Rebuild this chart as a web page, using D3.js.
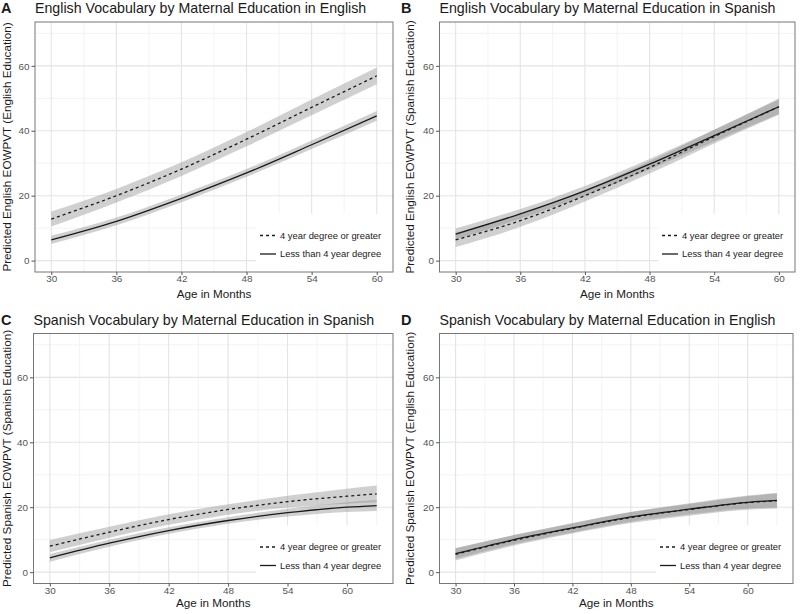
<!DOCTYPE html>
<html><head><meta charset="utf-8">
<script src="https://cdn.jsdelivr.net/npm/d3@7"></script>
<style>
html,body{margin:0;padding:0;background:#fff;}
svg{display:block;font-family:"Liberation Sans",Arial,sans-serif;}
</style></head>
<body>
<svg id="c" width="800" height="614"></svg>
<script>
// ---- data ----
const ageAB = [30, 36, 42, 48, 54, 60];
const ageCD = [30, 36, 42, 48, 54, 60, 63];
const xTicksAB = [30, 36, 42, 48, 54, 60];
const xTicksCD = [30, 36, 42, 48, 54, 60];
const yTicks = [0, 20, 40, 60];
const seriesNames = ["4 year degree or greater", "Less than 4 year degree"];

// Panel A
const degA   = [12.8, 20.0, 28.2, 37.4, 47.2, 56.9];
const degA_se= [2.3, 2.1, 2.1, 2.2, 2.4, 2.6];
const lessA  = [6.4, 12.1, 19.2, 27.0, 35.7, 44.6];
const lessA_se=[1.3, 1.2, 1.2, 1.2, 1.3, 1.5];
// Panel B
const degB   = [6.4, 12.3, 20.0, 28.7, 38.2, 47.4];
const degB_se= [2.2, 1.9, 1.8, 1.9, 2.1, 2.5];
const lessB  = [8.2, 14.4, 21.5, 29.7, 38.5, 47.4];
const lessB_se=[1.7, 1.5, 1.5, 1.6, 1.8, 2.2];
// Panel C
const degC   = [8.0, 12.3, 16.2, 19.3, 21.7, 23.4, 24.1];
const degC_se= [1.9, 1.7, 1.6, 1.6, 1.8, 2.3, 2.6];
const lessC  = [4.4, 8.9, 12.8, 15.9, 18.3, 20.0, 20.5];
const lessC_se=[1.2, 1.1, 1.0, 1.0, 1.2, 1.5, 1.7];
// Panel D
const degD   = [5.5, 9.8, 13.5, 16.8, 19.3, 21.4, 22.0];
const degD_se= [1.9, 1.6, 1.6, 1.7, 1.9, 2.2, 2.4];
const lessD  = [5.7, 10.0, 13.6, 17.0, 19.4, 21.5, 22.1];
const lessD_se=[1.6, 1.4, 1.4, 1.5, 1.6, 1.9, 2.1];

const titles = [
  "English Vocabulary by Maternal Education in English",
  "English Vocabulary by Maternal Education in Spanish",
  "Spanish Vocabulary by Maternal Education in Spanish",
  "Spanish Vocabulary by Maternal Education in English"
];
const letters = ["A", "B", "C", "D"];
const yTitles = [
  "Predicted English EOWPVT (English Education)",
  "Predicted English EOWPVT (Spanish Education)",
  "Predicted Spanish EOWPVT (Spanish Education)",
  "Predicted Spanish EOWPVT (English Education)"
];
const xTitle = "Age in Months";

// ---- layout ----
const panels = [
  {ox:0,   l:35,    r:393, t:22,    b:272,   age:ageAB, xt:xTicksAB, xd:[30,60], deg:degA, degSe:degA_se, less:lessA, lessSe:lessA_se, yTitleX:10.5, xTitleY:298},
  {ox:400, l:439.5, r:795, t:22,    b:272,   age:ageAB, xt:xTicksAB, xd:[30,60], deg:degB, degSe:degB_se, less:lessB, lessSe:lessB_se, yTitleX:414, xTitleY:298},
  {ox:0,   l:33.5,  r:393, t:333.5, b:583.5, age:ageCD, xt:xTicksCD, xd:[30,63], deg:degC, degSe:degC_se, less:lessC, lessSe:lessC_se, yTitleX:10.5, xTitleY:607},
  {ox:400, l:439.5, r:793, t:333.5, b:583.5, age:ageCD, xt:xTicksCD, xd:[30,63], deg:degD, degSe:degD_se, less:lessD, lessSe:lessD_se, yTitleX:414, xTitleY:607}
];

const svg = d3.select("#c");
const textCol = "#1a1a1a", tickCol = "#555";

panels.forEach((p, i) => {
  const span = p.xd[1] - p.xd[0];
  const x = d3.scaleLinear().domain([p.xd[0] - 0.05*span, p.xd[1] + 0.05*span]).range([p.l, p.r]);
  const y = d3.scaleLinear().domain([-3.5, 73.5]).range([p.b, p.t]);
  const g = svg.append("g");

  // minor grid
  const xMinor = [];
  for (let v = p.xt[0] - 3; v <= x.domain()[1]; v += 6) if (v >= x.domain()[0]) xMinor.push(v);
  const yMinor = [10, 30, 50, 70];
  g.selectAll(".xm").data(xMinor).join("line")
    .attr("x1", d => x(d)).attr("x2", d => x(d)).attr("y1", p.t).attr("y2", p.b)
    .attr("stroke", "#f0f0f0").attr("stroke-width", 0.8);
  g.selectAll(".ym").data(yMinor).join("line")
    .attr("y1", d => y(d)).attr("y2", d => y(d)).attr("x1", p.l).attr("x2", p.r)
    .attr("stroke", "#f0f0f0").attr("stroke-width", 0.8);
  // major grid
  g.selectAll(".xg").data(p.xt).join("line")
    .attr("x1", d => x(d)).attr("x2", d => x(d)).attr("y1", p.t).attr("y2", p.b)
    .attr("stroke", "#e4e4e4").attr("stroke-width", 1.1);
  g.selectAll(".yg").data(yTicks).join("line")
    .attr("y1", d => y(d)).attr("y2", d => y(d)).attr("x1", p.l).attr("x2", p.r)
    .attr("stroke", "#e4e4e4").attr("stroke-width", 1.1);

  // ribbons
  const mk = (vals, se) => p.age.map((a, k) => ({a, v: vals[k], lo: vals[k] - se[k], hi: vals[k] + se[k]}));
  const dDeg = mk(p.deg, p.degSe), dLess = mk(p.less, p.lessSe);
  const area = d3.area().x(d => x(d.a)).y0(d => y(d.lo)).y1(d => y(d.hi)).curve(d3.curveMonotoneX);
  const line = d3.line().x(d => x(d.a)).y(d => y(d.v)).curve(d3.curveMonotoneX);
  [dDeg, dLess].forEach(d => {
    g.append("path").attr("d", area(d)).attr("fill", "#8a8a8a").attr("fill-opacity", 0.4);
  });
  g.append("path").attr("d", line(dLess)).attr("fill", "none").attr("stroke", "#1a1a1a").attr("stroke-width", 1.3);
  g.append("path").attr("d", line(dDeg)).attr("fill", "none").attr("stroke", "#1a1a1a").attr("stroke-width", 1.3)
    .attr("stroke-dasharray", "3,3");

  // legend
  const lx = p.r - 133, ly = p.b - 58;
  g.append("rect").attr("x", lx - 4).attr("y", ly).attr("width", p.r - lx + 4).attr("height", p.b - ly).attr("fill", "#fff");
  seriesNames.forEach((s, k) => {
    const yy = p.b - 36.5 + k * 18.5;
    g.append("line").attr("x1", lx).attr("x2", lx + 16).attr("y1", yy).attr("y2", yy)
      .attr("stroke", "#1a1a1a").attr("stroke-width", 1.3)
      .attr("stroke-dasharray", k === 0 ? "3,3" : null);
    g.append("text").attr("x", lx + 20).attr("y", yy).attr("dy", "0.35em")
      .attr("font-size", 9.4).attr("fill", textCol).text(s);
  });

  // border
  g.append("rect").attr("x", p.l).attr("y", p.t).attr("width", p.r - p.l).attr("height", p.b - p.t)
    .attr("fill", "none").attr("stroke", "#777").attr("stroke-width", 1);

  // axes
  const xa = g.append("g").attr("transform", `translate(0,${p.b})`)
    .call(d3.axisBottom(x).tickValues(p.xt).tickSize(3).tickPadding(0).tickFormat(d3.format("d")));
  const ya = g.append("g").attr("transform", `translate(${p.l},0)`)
    .call(d3.axisLeft(y).tickValues(yTicks).tickSize(3.5).tickPadding(2).tickFormat(d3.format("d")));
  [xa, ya].forEach(a => {
    a.select(".domain").remove();
    a.selectAll(".tick line").attr("stroke", "#555");
    a.selectAll(".tick text").attr("fill", tickCol).attr("font-size", 9.9)
      .attr("font-family", "Liberation Sans, Arial, sans-serif");
  });

  // titles
  g.append("text").attr("x", p.ox + 1).attr("y", p.t - 9).attr("font-size", 14.5).attr("font-weight", "bold")
    .attr("fill", textCol).text(letters[i]);
  g.append("text").attr("x", p.l).attr("y", p.t - 9).attr("font-size", 14.2).attr("fill", textCol).text(titles[i]);
  g.append("text").attr("x", (p.l + p.r) / 2).attr("y", p.xTitleY).attr("text-anchor", "middle")
    .attr("font-size", 11.7).attr("fill", textCol).text(xTitle);
  g.append("text").attr("transform", `translate(${p.yTitleX},${(p.t + p.b) / 2}) rotate(-90)`)
    .attr("text-anchor", "middle").attr("font-size", 11.7).attr("fill", textCol).text(yTitles[i]);
});
</script>
</body></html>
